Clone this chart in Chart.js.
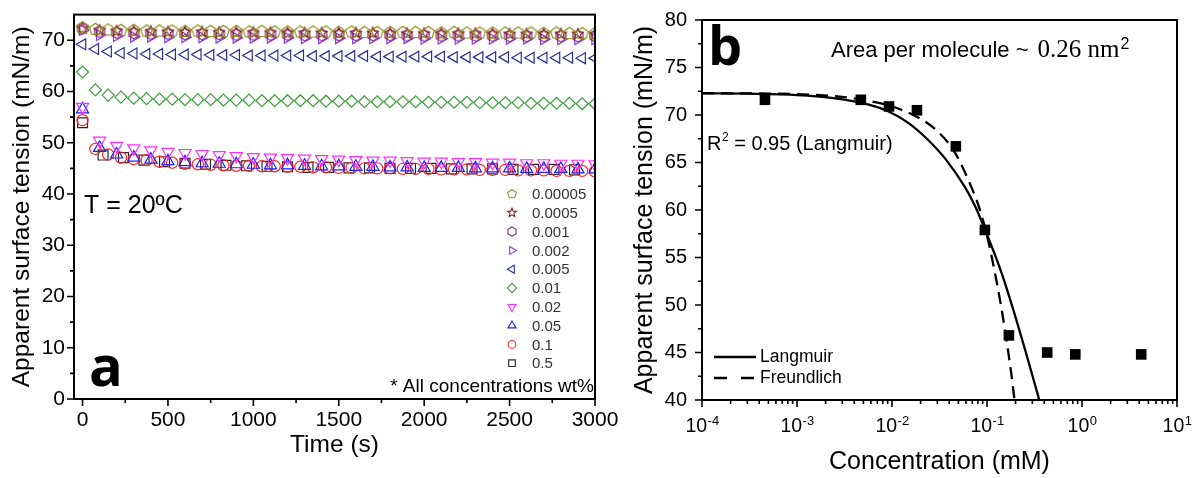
<!DOCTYPE html>
<html>
<head>
<meta charset="utf-8">
<script src="https://cdn.jsdelivr.net/npm/chart.js@4.4.1/dist/chart.umd.min.js"></script>
<style>
  html, body { margin: 0; padding: 0; background: #ffffff; }
  body { width: 1197px; height: 478px; position: relative; overflow: hidden; }
  #ca { position: absolute; left: 0; top: 0; }
  #cb { position: absolute; left: 600px; top: 0; }
</style>
</head>
<body>
<canvas id="ca" width="640" height="478"></canvas>
<canvas id="cb" width="597" height="478"></canvas>
<script>
// ---------- Panel a: dynamic surface tension vs time ----------
const concLabels = ['0.00005', '0.0005', '0.001', '0.002', '0.005', '0.01', '0.02', '0.05', '0.1', '0.5'];

const time75 = [0, 75, 150, 225, 300, 375, 450, 525, 600, 675, 750, 825, 900, 975, 1050, 1125, 1200, 1275, 1350, 1425,
  1500, 1575, 1650, 1725, 1800, 1875, 1950, 2025, 2100, 2175, 2250, 2325, 2400, 2475, 2550, 2625, 2700, 2775, 2850, 2925, 3000];
const time100 = [0, 100, 200, 300, 400, 500, 600, 700, 800, 900, 1000, 1100, 1200, 1300, 1400, 1500, 1600, 1700, 1800, 1900,
  2000, 2100, 2200, 2300, 2400, 2500, 2600, 2700, 2800, 2900, 3000];
const time120 = [0, 120, 240, 360, 480, 600, 720, 840, 960, 1080, 1200, 1320, 1440, 1560, 1680, 1800, 1920, 2040, 2160, 2280,
  2400, 2520, 2640, 2760, 2880];

const st00005 = [72.4, 72.1, 72.0, 71.9, 71.9, 71.8, 71.8, 71.8, 71.7, 71.8, 71.7, 71.7, 71.7, 71.6, 71.7, 71.6, 71.6, 71.6, 71.6, 71.6,
  71.5, 71.6, 71.5, 71.5, 71.5, 71.5, 71.5, 71.5, 71.4, 71.5, 71.4, 71.4, 71.4, 71.4, 71.4, 71.4, 71.3, 71.4, 71.3, 71.3, 71.3];
const st0005 = [72.3, 71.9, 71.8, 71.7, 71.7, 71.6, 71.6, 71.6, 71.5, 71.5, 71.5, 71.5, 71.4, 71.4, 71.4, 71.4, 71.4, 71.4, 71.3, 71.3,
  71.3, 71.3, 71.3, 71.3, 71.2, 71.2, 71.2, 71.2, 71.2, 71.2, 71.1];
const st001 = [72.3, 71.7, 71.5, 71.4, 71.3, 71.3, 71.2, 71.2, 71.2, 71.1, 71.1, 71.1, 71.1, 71.0, 71.0, 71.0, 71.0, 71.0, 71.0, 70.9,
  70.9, 70.9, 70.9, 70.9, 70.9, 70.8, 70.8, 70.8, 70.8, 70.8, 70.8];
const st002 = [72.0, 71.0, 70.8, 70.7, 70.7, 70.6, 70.6, 70.6, 70.5, 70.5, 70.5, 70.5, 70.5, 70.4, 70.4, 70.4, 70.4, 70.4, 70.4, 70.4,
  70.3, 70.3, 70.3, 70.3, 70.3, 70.3, 70.3, 70.2, 70.2, 70.2, 70.2];
const st005 = [69.2, 68.3, 67.8, 67.5, 67.4, 67.3, 67.3, 67.2, 67.2, 67.2, 67.1, 67.1, 67.1, 67.0, 67.0, 67.0, 67.0, 67.0, 66.9, 66.9,
  66.9, 66.9, 66.9, 66.8, 66.8, 66.8, 66.8, 66.8, 66.8, 66.7, 66.7, 66.7, 66.7, 66.7, 66.6, 66.6, 66.6, 66.6, 66.6, 66.5, 66.5];
const st01 = [63.8, 60.3, 59.3, 58.9, 58.7, 58.6, 58.5, 58.5, 58.4, 58.4, 58.4, 58.3, 58.3, 58.3, 58.2, 58.2, 58.2, 58.2, 58.2, 58.1,
  58.1, 58.1, 58.0, 58.0, 58.0, 58.0, 58.0, 57.9, 57.9, 57.9, 57.9, 57.8, 57.8, 57.8, 57.8, 57.7, 57.7, 57.7, 57.7, 57.6, 57.6];
const st02 = [57.0, 50.4, 49.4, 48.9, 48.5, 48.2, 48.0, 47.8, 47.6, 47.4, 47.2, 47.1, 47.0, 46.9, 46.8, 46.7, 46.6, 46.5, 46.5, 46.4,
  46.3, 46.3, 46.2, 46.2, 46.1, 46.1, 46.0, 46.0, 45.9, 45.9, 45.8];
const st05 = [56.5, 49.0, 47.7, 47.1, 46.7, 46.4, 46.2, 46.0, 45.9, 45.8, 45.7, 45.6, 45.6, 45.5, 45.4, 45.4, 45.3, 45.3, 45.2, 45.2,
  45.1, 45.1, 45.1, 45.0, 45.0, 45.0, 44.9, 44.9, 44.9, 44.8, 44.8];
const st1 = [54.4, 48.8, 47.7, 47.1, 46.8, 46.6, 46.3, 46.1, 45.9, 45.8, 45.7, 45.6, 45.5, 45.5, 45.4, 45.4, 45.3, 45.3, 45.2, 45.2,
  45.1, 45.1, 45.0, 45.0, 45.0, 44.9, 44.9, 44.9, 44.8, 44.8, 44.8, 44.7, 44.7, 44.7, 44.6, 44.6, 44.6, 44.5, 44.5, 44.5, 44.4];
const st5 = [53.9, 47.6, 47.1, 46.6, 46.3, 46.0, 45.8, 45.6, 45.5, 45.4, 45.3, 45.2, 45.2, 45.1, 45.1, 45.0, 45.0, 45.0, 44.9, 44.9,
  44.9, 44.8, 44.8, 44.8, 44.7];

const yTicksA = [0, 10, 20, 30, 40, 50, 60, 70];
const yMinorA = [5, 15, 25, 35, 45, 55, 65];
const xTicksA = [0, 500, 1000, 1500, 2000, 2500, 3000];
const xMinorA = [250, 750, 1250, 1750, 2250, 2750];

// ---------- Panel b: equilibrium surface tension vs concentration ----------
const concB = [0.00046, 0.0047, 0.0093, 0.0183, 0.047, 0.095, 0.17, 0.43, 0.85, 4.2];
const gammaB = [71.6, 71.6, 70.9, 70.5, 66.7, 57.9, 46.8, 45.0, 44.8, 44.8];
const langmuirC = [0.0001, 0.0003, 0.001, 0.0023, 0.0057, 0.0091, 0.0147, 0.0233, 0.037, 0.0586, 0.075, 0.1, 0.12, 0.15, 0.2, 0.25, 0.3, 0.355];
const langmuirG = [72.28, 72.24, 72.1, 71.8, 71.1, 70.4, 69.2, 67.5, 65.3, 62.4, 60.4, 57.4, 55.4, 52.7, 48.7, 45.4, 42.6, 40.0];
const freundlichC = [0.0001, 0.001, 0.003, 0.005, 0.01, 0.02, 0.03, 0.045, 0.064, 0.083, 0.1, 0.12, 0.14, 0.16, 0.18, 0.195];
const freundlichG = [72.3, 72.2, 71.9, 71.6, 70.9, 69.6, 68.3, 66.2, 63.1, 60.2, 57.3, 53.6, 50.0, 46.4, 42.8, 40.0];

const yTicksB = [40, 45, 50, 55, 60, 65, 70, 75, 80];
const yMinorB = [42.5, 47.5, 52.5, 57.5, 62.5, 67.5, 72.5, 77.5];
const xDecadesB = [-4, -3, -2, -1, 0, 1];

// ---------- shared helpers ----------
const SANS = "'Liberation Sans', Arial, sans-serif";
const SERIF = "'Liberation Serif', 'Times New Roman', serif";
Chart.defaults.font.family = SANS;
Chart.defaults.color = '#000';

function polyCanvas(sides, r, color, lw, inner) {
  const s = Math.ceil(2 * r + 4);
  const c = document.createElement('canvas');
  c.width = s; c.height = s;
  const g = c.getContext('2d');
  g.strokeStyle = color; g.lineWidth = lw; g.lineJoin = 'miter';
  g.beginPath();
  const n = inner ? sides * 2 : sides;
  for (let i = 0; i < n; i++) {
    const a = i * 2 * Math.PI / n;
    const rr = inner && (i % 2) ? r * inner : r;
    const px = s / 2 + rr * Math.sin(a), py = s / 2 - rr * Math.cos(a);
    if (i) g.lineTo(px, py); else g.moveTo(px, py);
  }
  g.closePath(); g.stroke();
  return c;
}

function drawMark(ctx, spec, x, y, r) {
  ctx.save();
  ctx.strokeStyle = spec.color; ctx.lineWidth = 1.1;
  ctx.beginPath();
  const tri = (rot) => {
    for (let i = 0; i < 3; i++) {
      const a = rot + i * 2 * Math.PI / 3;
      const px = x + r * Math.sin(a), py = y - r * Math.cos(a);
      if (i) ctx.lineTo(px, py); else ctx.moveTo(px, py);
    }
    ctx.closePath();
  };
  const poly = (n, inner) => {
    const m = inner ? n * 2 : n;
    for (let i = 0; i < m; i++) {
      const a = i * 2 * Math.PI / m;
      const rr = inner && (i % 2) ? r * inner : r;
      const px = x + rr * Math.sin(a), py = y - rr * Math.cos(a);
      if (i) ctx.lineTo(px, py); else ctx.moveTo(px, py);
    }
    ctx.closePath();
  };
  switch (spec.shape) {
    case 'pentagon': poly(5); break;
    case 'star': poly(5, 0.45); break;
    case 'hexagon': poly(6); break;
    case 'tri-right': tri(Math.PI / 2); break;
    case 'tri-left': tri(-Math.PI / 2); break;
    case 'tri-down': tri(Math.PI); break;
    case 'tri-up': tri(0); break;
    case 'diamond': ctx.moveTo(x - r, y); ctx.lineTo(x, y - r); ctx.lineTo(x + r, y); ctx.lineTo(x, y + r); ctx.closePath(); break;
    case 'circle': ctx.arc(x, y, r * 0.85, 0, Math.PI * 2); break;
    case 'square': ctx.rect(x - r * 0.72, y - r * 0.72, r * 1.44, r * 1.44); break;
  }
  ctx.stroke();
  ctx.restore();
}

// marker style per concentration
const styleA = [
  { color: '#8f8f22', shape: 'pentagon' },
  { color: '#8b1c1c', shape: 'star' },
  { color: '#8a2a8a', shape: 'hexagon' },
  { color: '#8a3cf0', shape: 'tri-right' },
  { color: '#2e2e98', shape: 'tri-left' },
  { color: '#3e9e3e', shape: 'diamond' },
  { color: '#ff2cff', shape: 'tri-down' },
  { color: '#1f1fff', shape: 'tri-up' },
  { color: '#ff2424', shape: 'circle' },
  { color: '#2a2a2a', shape: 'square' }
];
const timesA = [time75, time100, time100, time100, time75, time75, time100, time100, time75, time120];
const valuesA = [st00005, st0005, st001, st002, st005, st01, st02, st05, st1, st5];

function chartPointStyle(spec) {
  switch (spec.shape) {
    case 'pentagon': return { pointStyle: polyCanvas(5, 6.2, spec.color, 1.2), rotation: 0, radius: 6 };
    case 'star': return { pointStyle: polyCanvas(5, 5.8, spec.color, 1.1, 0.45), rotation: 0, radius: 6 };
    case 'hexagon': return { pointStyle: polyCanvas(6, 5.8, spec.color, 1.2), rotation: 0, radius: 6 };
    case 'tri-right': return { pointStyle: 'triangle', rotation: 90, radius: 6.3 };
    case 'tri-left': return { pointStyle: 'triangle', rotation: -90, radius: 6.3 };
    case 'tri-down': return { pointStyle: 'triangle', rotation: 180, radius: 7 };
    case 'tri-up': return { pointStyle: 'triangle', rotation: 0, radius: 7 };
    case 'diamond': return { pointStyle: 'rectRot', rotation: 0, radius: 6 };
    case 'circle': return { pointStyle: 'circle', rotation: 0, radius: 5.6 };
    case 'square': return { pointStyle: 'rect', rotation: 0, radius: 7 };
  }
}

const datasetsA = concLabels.map((lbl, i) => {
  const ps = chartPointStyle(styleA[i]);
  return {
    label: lbl,
    data: timesA[i].map((t, k) => ({ x: t, y: valuesA[i][k] })),
    showLine: false,
    pointStyle: ps.pointStyle,
    rotation: ps.rotation,
    pointRadius: ps.radius,
    pointBorderWidth: 1.2,
    borderColor: styleA[i].color,
    pointBorderColor: styleA[i].color,
    pointBackgroundColor: 'rgba(0,0,0,0)',
    backgroundColor: 'rgba(0,0,0,0)'
  };
});

function drawFrameAndTicks(chart, majorX, minorX, majorY, minorY) {
  const { ctx, chartArea: a, scales } = chart;
  ctx.save();
  ctx.strokeStyle = '#000';
  ctx.lineWidth = 2;
  ctx.strokeRect(a.left, a.top, a.right - a.left, a.bottom - a.top);
  ctx.lineWidth = 1.6;
  ctx.beginPath();
  majorX.forEach(v => { const p = scales.x.getPixelForValue(v); ctx.moveTo(p, a.bottom); ctx.lineTo(p, a.bottom + 7); });
  minorX.forEach(v => { const p = scales.x.getPixelForValue(v); ctx.moveTo(p, a.bottom); ctx.lineTo(p, a.bottom + 4); });
  majorY.forEach(v => { const p = scales.y.getPixelForValue(v); ctx.moveTo(a.left, p); ctx.lineTo(a.left - 7, p); });
  minorY.forEach(v => { const p = scales.y.getPixelForValue(v); ctx.moveTo(a.left, p); ctx.lineTo(a.left - 4, p); });
  ctx.stroke();
  ctx.restore();
}

const panelADecor = {
  id: 'panelADecor',
  afterDatasetsDraw(chart) {
    drawFrameAndTicks(chart, xTicksA, xMinorA, yTicksA, yMinorA);
  },
  afterDraw(chart) {
    const ctx = chart.ctx;
    ctx.save();
    ctx.fillStyle = '#000';
    ctx.textBaseline = 'alphabetic';
    ctx.textAlign = 'left';
    ctx.font = '25px ' + SANS;
    ctx.fillText('T = 20\u00BAC', 84, 213);
    ctx.font = "bold 56px 'Open Sans', " + SANS;
    ctx.fillText('a', 89, 386);
    // legend
    ctx.font = '15px ' + SANS;
    ctx.textBaseline = 'middle';
    ctx.fillStyle = '#333';
    concLabels.forEach((lbl, i) => {
      const y = 194 + i * 18.8;
      drawMark(ctx, styleA[i], 512, y, 4.6);
      ctx.fillText(lbl, 532, y + 1);
    });
    ctx.fillStyle = '#000';
    ctx.textAlign = 'right';
    ctx.font = '19px ' + SANS;
    ctx.fillText('* All concentrations wt%', 594, 387);
    ctx.restore();
  }
};

new Chart(document.getElementById('ca'), {
  type: 'scatter',
  data: { datasets: datasetsA },
  options: {
    responsive: false,
    devicePixelRatio: 1,
    animation: false,
    events: [],
    layout: { padding: { top: 13, right: 45, bottom: 0, left: 0 } },
    plugins: { legend: { display: false }, tooltip: { enabled: false } },
    scales: {
      x: {
        type: 'linear', min: -50, max: 3000,
        afterBuildTicks(s) { s.ticks = xTicksA.map(v => ({ value: v })); },
        afterFit(s) { s.height = 79; },
        grid: { display: false, drawTicks: true, tickLength: 7 },
        border: { display: false },
        ticks: { font: { size: 21 }, color: '#000', padding: 2, maxRotation: 0, autoSkip: false, callback: v => String(v) },
        title: { display: true, text: 'Time (s)', font: { size: 24.5, lineHeight: 1 }, color: '#000', padding: { top: 0, bottom: 21 } }
      },
      y: {
        type: 'linear', min: 0, max: 75,
        afterBuildTicks(s) { s.ticks = yTicksA.map(v => ({ value: v })); },
        afterFit(s) { s.width = 74; },
        grid: { display: false, drawTicks: true, tickLength: 7 },
        border: { display: false },
        ticks: { font: { size: 21 }, color: '#000', padding: 2, callback: v => String(v) },
        title: { display: true, text: 'Apparent surface tension (mN/m)', font: { size: 24.5, lineHeight: 1 }, color: '#000', padding: { top: 10, bottom: 0 } }
      }
    }
  },
  plugins: [panelADecor]
});

// ---------- Panel b chart ----------
const panelBDecor = {
  id: 'panelBDecor',
  afterDatasetsDraw(chart) {
    const minorX = [];
    xDecadesB.slice(0, -1).forEach(e => { for (let m = 2; m <= 9; m++) minorX.push(m * Math.pow(10, e)); });
    drawFrameAndTicks(chart, xDecadesB.map(e => Math.pow(10, e)), minorX, yTicksB, yMinorB);
  },
  afterDraw(chart) {
    const ctx = chart.ctx;
    const sx = chart.scales.x;
    ctx.save();
    ctx.fillStyle = '#000';
    ctx.textBaseline = 'alphabetic';
    // decade labels with superscript exponents
    xDecadesB.forEach(e => {
      const p = sx.getPixelForValue(Math.pow(10, e));
      const exp = String(e);
      ctx.font = '19.5px ' + SANS;
      const wb = ctx.measureText('10').width;
      ctx.font = '13px ' + SANS;
      const we = ctx.measureText(exp).width;
      const x0 = p - (wb + we) / 2;
      ctx.textAlign = 'left';
      ctx.font = '19.5px ' + SANS;
      ctx.fillText('10', x0, 432);
      ctx.font = '13px ' + SANS;
      ctx.fillText(exp, x0 + wb + 0.5, 425);
    });
    // panel letter
    ctx.font = "bold 54px 'Open Sans', " + SANS;
    ctx.fillText('b', 108, 65);
    // area per molecule
    ctx.font = '22px ' + SANS;
    const t1 = 'Area per molecule ~ ';
    ctx.fillText(t1, 231, 57);
    let x = 231 + ctx.measureText(t1).width + 3;
    ctx.font = '25px ' + SERIF;
    ctx.fillText('0.26 nm', x, 57);
    x += ctx.measureText('0.26 nm').width;
    ctx.font = '16px ' + SANS;
    ctx.fillText('2', x + 1, 49);
    // fit quality
    ctx.font = '20px ' + SANS;
    ctx.fillText('R', 107, 150);
    let xr = 107 + ctx.measureText('R').width;
    ctx.font = '12px ' + SANS;
    ctx.fillText('2', xr + 0.5, 141);
    xr += ctx.measureText('2').width + 0.5;
    ctx.font = '20px ' + SANS;
    ctx.fillText(' = 0.95 (Langmuir)', xr, 150);
    // legend
    ctx.strokeStyle = '#000';
    ctx.lineWidth = 2.5;
    ctx.beginPath(); ctx.moveTo(114, 357); ctx.lineTo(156, 357); ctx.stroke();
    ctx.setLineDash([13, 14]);
    ctx.beginPath(); ctx.moveTo(114, 378); ctx.lineTo(154, 378); ctx.stroke();
    ctx.setLineDash([]);
    ctx.font = '17.5px ' + SANS;
    ctx.textBaseline = 'middle';
    ctx.fillText('Langmuir', 160, 357);
    ctx.fillText('Freundlich', 160, 378);
    ctx.restore();
  }
};

new Chart(document.getElementById('cb'), {
  type: 'scatter',
  data: {
    datasets: [
      {
        label: 'Data',
        data: concB.map((c, i) => ({ x: c, y: gammaB[i] })),
        showLine: false,
        pointStyle: 'rect',
        pointRadius: 7.5,
        pointBorderWidth: 0,
        pointBackgroundColor: '#000',
        backgroundColor: '#000',
        borderColor: '#000'
      },
      {
        label: 'Langmuir',
        data: langmuirC.map((c, i) => ({ x: c, y: langmuirG[i] })),
        showLine: true,
        pointRadius: 0,
        borderColor: '#000',
        borderWidth: 2.3,
        cubicInterpolationMode: 'monotone'
      },
      {
        label: 'Freundlich',
        data: freundlichC.map((c, i) => ({ x: c, y: freundlichG[i] })),
        showLine: true,
        pointRadius: 0,
        borderColor: '#000',
        borderWidth: 2.3,
        borderDash: [12, 7],
        cubicInterpolationMode: 'monotone'
      }
    ]
  },
  options: {
    responsive: false,
    devicePixelRatio: 1,
    animation: false,
    events: [],
    layout: { padding: { top: 18, right: 20, bottom: 0, left: 0 } },
    plugins: { legend: { display: false }, tooltip: { enabled: false } },
    scales: {
      x: {
        type: 'logarithmic', min: 0.0001, max: 10,
        afterBuildTicks(s) { s.ticks = xDecadesB.map(e => ({ value: Math.pow(10, e) })); },
        afterFit(s) { s.height = 78; },
        grid: { display: false, drawTicks: true, tickLength: 7 },
        border: { display: false },
        ticks: { callback: () => '', maxRotation: 0, autoSkip: false },
        title: { display: true, text: 'Concentration (mM)', font: { size: 25, lineHeight: 1 }, color: '#000', padding: { top: 0, bottom: 3.5 } }
      },
      y: {
        type: 'linear', min: 40, max: 80,
        afterBuildTicks(s) { s.ticks = yTicksB.map(v => ({ value: v })); },
        afterFit(s) { s.width = 102; },
        grid: { display: false, drawTicks: true, tickLength: 7 },
        border: { display: false },
        ticks: { font: { size: 20 }, color: '#000', padding: 8 },
        title: { display: true, text: 'Apparent surface tension (mN/m)', font: { size: 25, lineHeight: 1 }, color: '#000', padding: { top: 32.5, bottom: 0 } }
      }
    }
  },
  plugins: [panelBDecor]
});
</script>
</body>
</html>
